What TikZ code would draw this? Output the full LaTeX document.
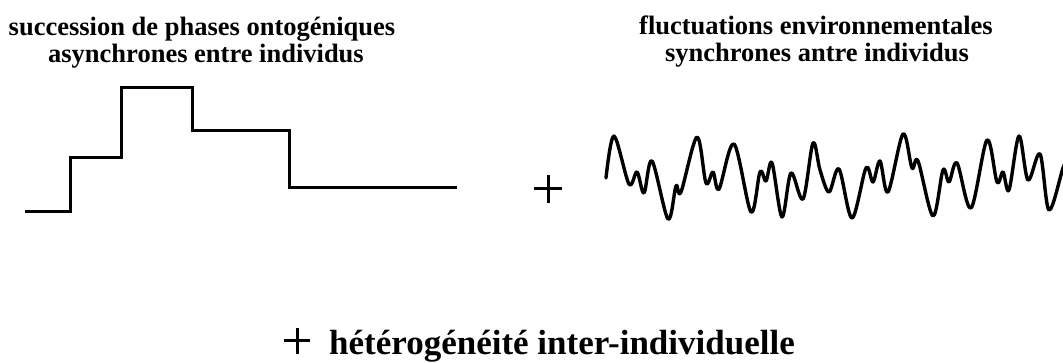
\documentclass[tikz,border=0pt]{standalone}
\usepackage{fontspec}
\setmainfont{Liberation Serif}
\begin{document}
\begin{tikzpicture}[x=1pt,y=-1pt,
  toplbl/.style={font=\bfseries\fontsize{26.5}{30}\selectfont, inner sep=0pt, anchor=base},
  botlbl/.style={font=\bfseries\fontsize{35}{40}\selectfont, inner sep=0pt, anchor=base west},
  stepline/.style={line width=3pt, line join=miter},
  waveline/.style={line width=3.4pt, line join=round, line cap=round},
  plusline/.style={line width=3pt}]
\useasboundingbox (0,0) rectangle (1063,363);
% titles
\node[toplbl] (t1a) at (202,36) {succession de phases ontogéniques};
\node[toplbl] (t1b) at (206,63) {asynchrones entre individus};
\node[toplbl] (t2a) at (816,35) {fluctuations environnementales};
\node[toplbl] (t2b) at (817,62) {synchrones antre individus};
\node[botlbl] (t3) at (329,354) {hétérogénéité inter-individuelle};
% step function
\draw[stepline] (25,212) -- (70,212) -- (70,158) -- (121,158) -- (121,88) -- (192,88)
  -- (192,131) -- (289,131) -- (289,188) -- (457,188);
% plus signs
\coordinate (p1) at (548,189);
\draw[plusline] ([xshift=-14pt]p1) -- ([xshift=14pt]p1);
\draw[plusline] ([yshift=-14pt]p1) -- ([yshift=14pt]p1);
\coordinate (p2) at (297,341);
\draw[plusline] ([xshift=-13pt]p2) -- ([xshift=13pt]p2);
\draw[plusline] ([yshift=-13pt]p2) -- ([yshift=13pt]p2);
% wave
\begin{scope}
\clip (0,0) rectangle (1063,363);
\draw[waveline] plot[smooth, tension=0.55] coordinates {
 (606,178) (614,136) (629,184) (637,172) (644,193) (652,161) (668,219) (676,186)
 (681,192) (697,137) (706,183) (713,172) (719,189) (734,144) (751,212) (760,172)
 (766,181) (772,163) (782,217) (791,173) (803,199) (813,143) (820,170) (829,192)
 (839,169) (852,218) (866,168) (873,182) (880,161) (888,192) (903,134) (912,168)
 (918,161) (933,216) (943,170) (949,182) (957,163) (971,208) (987,140) (997,182)
 (1003,172) (1009,190) (1019,136) (1028,180) (1040,154) (1049,210) (1063,168) (1068,158)};
\end{scope}
\end{tikzpicture}
\end{document}
